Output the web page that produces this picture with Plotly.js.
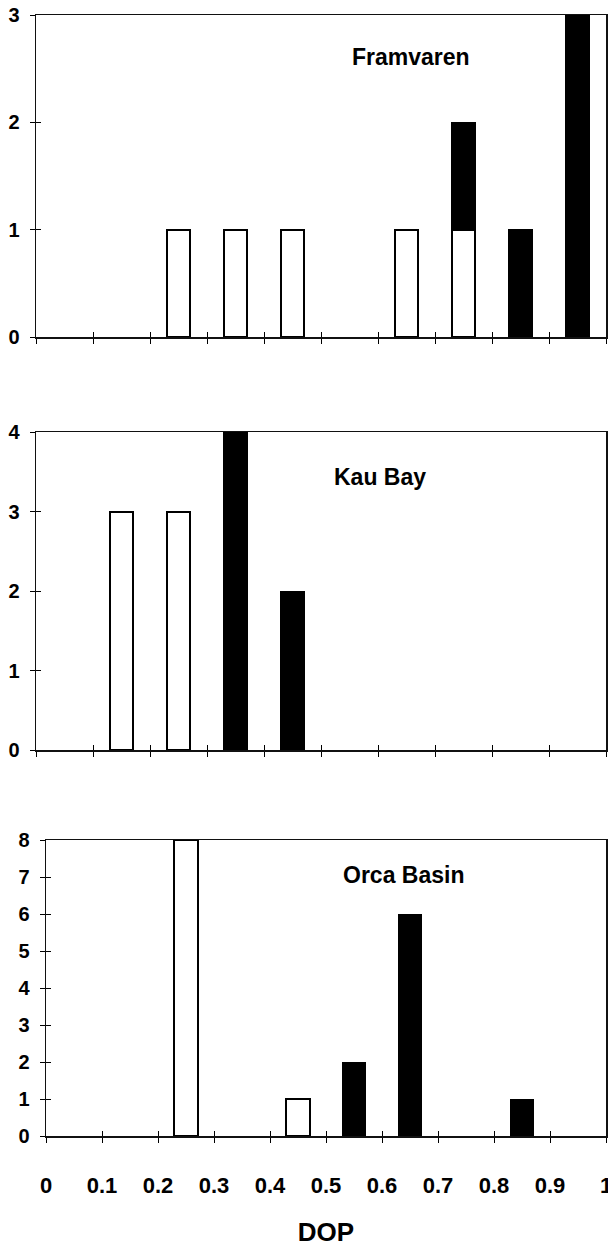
<!DOCTYPE html>
<html><head><meta charset="utf-8">
<script src="https://cdn.plot.ly/plotly-3.0.1.min.js"></script>
<style>html,body{margin:0;padding:0;background:#fff}</style>
</head><body><div id="chart" style="width:608px;height:1248px"></div>
<script>
// DOP bin centres and counts (open = white bars, filled = black bars)
const dopBins = [0.05, 0.15, 0.25, 0.35, 0.45, 0.55, 0.65, 0.75, 0.85, 0.95];
const framvarenOpen   = [0, 0, 1, 1, 1, 0, 1, 1, 0, 0];
const framvarenFilled = [0, 0, 0, 0, 0, 0, 0, 1, 1, 3];
const kauBayOpen      = [0, 3, 3, 0, 0, 0, 0, 0, 0, 0];
const kauBayFilled    = [0, 0, 0, 4, 2, 0, 0, 0, 0, 0];
const orcaOpen        = [0, 0, 8, 0, 1, 0, 0, 0, 0, 0];
const orcaFilled      = [0, 0, 0, 0, 0, 2, 6, 0, 1, 0];
const panelNames = ['Framvaren', 'Kau Bay', 'Orca Basin'];
const xTickVals = [0, 0.1, 0.2, 0.3, 0.4, 0.5, 0.6, 0.7, 0.8, 0.9, 1];
const xTickText = ['0', '0.1', '0.2', '0.3', '0.4', '0.5', '0.6', '0.7', '0.8', '0.9', '1'];
const yMaxes = [3, 4, 8];
const xTitle = 'DOP';

const FONT = 'Liberation Sans, Arial, sans-serif';
const openSets = [framvarenOpen, kauBayOpen, orcaOpen];
const filledSets = [framvarenFilled, kauBayFilled, orcaFilled];
const noZero = arr => arr.map(v => (v === 0 ? null : v));

// panel geometry (px from top / left)
const W = 608, H = 1248;
const geo = [
  {l: 36, r: 606, t: 15, b: 337},
  {l: 36, r: 606, t: 432, b: 750},
  {l: 46, r: 606, t: 840, b: 1136}
];

const data = [];
const layout = {
  width: W, height: H,
  margin: {l: 0, r: 0, t: 0, b: 0},
  paper_bgcolor: '#fff', plot_bgcolor: '#fff',
  showlegend: false, barmode: 'stack', bargap: 0,
  font: {family: FONT, color: '#000'},
  annotations: []
};

for (let i = 0; i < 3; i++) {
  const s = i === 0 ? '' : String(i + 1);
  const so = String(i + 4);
  const g = geo[i];
  data.push({
    type: 'bar', x: dopBins, y: noZero(openSets[i]), width: 0.042,
    xaxis: 'x' + s, yaxis: 'y' + s,
    marker: {color: '#fff', line: {color: '#000', width: 2}},
    hoverinfo: 'skip'
  });
  data.push({
    type: 'bar', x: dopBins, y: noZero(filledSets[i]), width: 0.042,
    xaxis: 'x' + s, yaxis: 'y' + s,
    marker: {color: '#000', line: {color: '#000', width: 1}},
    hoverinfo: 'skip'
  });
  const yvals = [];
  for (let v = 0; v <= yMaxes[i]; v += 1) yvals.push(v);
  layout['xaxis' + s] = {
    domain: [g.l / W, g.r / W], anchor: 'y' + s,
    range: [0, 1], tickvals: xTickVals, ticktext: xTickText,
    showticklabels: i === 2, ticklabeloverflow: 'allow',
    ticks: 'outside', ticklen: 5, tickwidth: 1, tickcolor: '#000',
    ticklabelstandoff: 24,
    tickfont: {family: FONT, size: 22, color: '#000', weight: 'bold'},
    showline: true, linecolor: '#111', linewidth: 1.5, mirror: true,
    showgrid: false, zeroline: false, fixedrange: true
  };
  layout['yaxis' + s] = {
    domain: [1 - g.b / H, 1 - g.t / H], anchor: 'x' + s,
    range: [0, yMaxes[i]], tickvals: yvals,
    ticks: 'outside', ticklen: 5, tickwidth: 1, tickcolor: '#000',
    ticklabelstandoff: 6,
    tickfont: {family: FONT, size: 20, color: '#000', weight: 'bold'},
    showline: true, linecolor: '#111', linewidth: 1.5, mirror: true,
    showgrid: false, zeroline: false, fixedrange: true
  };
  // overlay axes so the ticks cross the axis line
  layout['xaxis' + so] = {
    overlaying: 'x' + s, anchor: 'y' + s, side: 'bottom',
    range: [0, 1], tickvals: xTickVals, showticklabels: false,
    ticks: 'inside', ticklen: 5, tickwidth: 1, tickcolor: '#000',
    showline: false, showgrid: false, zeroline: false, fixedrange: true
  };
  layout['yaxis' + so] = {
    overlaying: 'y' + s, anchor: 'x' + s, side: 'left',
    range: [0, yMaxes[i]], tickvals: yvals, showticklabels: false,
    ticks: 'inside', ticklen: 5, tickwidth: 1, tickcolor: '#000',
    showline: false, showgrid: false, zeroline: false, fixedrange: true
  };
  data.push({type: 'scatter', x: [], y: [], xaxis: 'x' + so, yaxis: 'y' + so, hoverinfo: 'skip'});
}

layout.xaxis3.title = {text: xTitle, font: {family: FONT, size: 26, weight: 'bold', color: '#000'}, standoff: 26};

const annPos = [[0.658, 2.61], [0.604, 3.43], [0.6375, 7.05]];
for (let i = 0; i < 3; i++) {
  const s = i === 0 ? '' : String(i + 1);
  layout.annotations.push({
    text: panelNames[i], xref: 'x' + s, yref: 'y' + s,
    x: annPos[i][0], y: annPos[i][1], showarrow: false,
    xanchor: 'center', yanchor: 'middle',
    font: {family: FONT, size: 23, weight: 'bold', color: '#000'}
  });
}

Plotly.newPlot('chart', data, layout, {staticPlot: true, displayModeBar: false});
</script>
</body></html>
